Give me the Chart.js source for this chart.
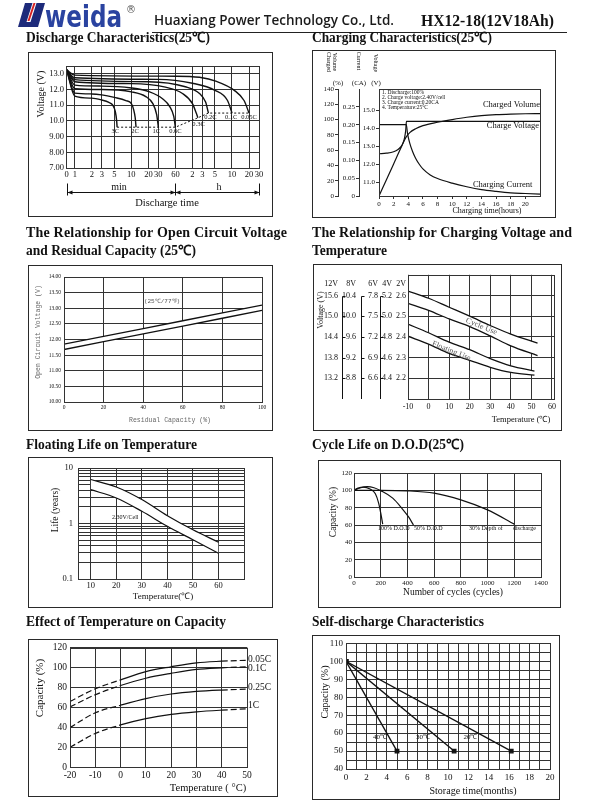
<!DOCTYPE html>
<html>
<head>
<meta charset="utf-8">
<title>HX12-18(12V18Ah)</title>
<script src="https://cdn.jsdelivr.net/npm/chart.js@4.4.1/dist/chart.umd.min.js"></script>
<style>
  html, body { margin: 0; padding: 0; background: #fff; }
  body { position: relative; width: 601px; height: 810px; overflow: hidden; }
  canvas { position: absolute; }
  .frame { position: absolute; box-sizing: border-box; border: 1.5px solid #2a2a2a; pointer-events: none; }
  #txt { position: absolute; left: 0; top: 0; z-index: 5; pointer-events: none; }
</style>
</head>
<body>
<svg id="txt" width="601" height="810" xmlns="http://www.w3.org/2000/svg"></svg>
<script>
const SERIF = "'Liberation Serif', 'Times New Roman', serif";
const MONO = "'Liberation Mono', 'DejaVu Sans Mono', monospace";
const INK = '#111';
const GRID = '#333';

// ===== 1. Discharge Characteristics (x: minutos, y: V) =====
const dischargeTimeTicks = [0.72, 1, 2, 3, 5, 10, 20, 30, 60, 120, 180, 300, 600, 1200, 1800];
const dischargeTimeLabels = ['0', '1', '2', '3', '5', '10', '20', '30', '60', '2', '3', '5', '10', '20', '30'];
const dischargeVoltTicks = [7, 8, 9, 10, 11, 12, 13];
const dischargeVoltLabels = ['7.00', '8.00', '9.00', '10.0', '11.0', '12.0', '13.0'];
const dischargeRates = ['3C', '2C', '1C', '0.6C', '0.3C', '0.2C', '0.1C', '0.05C'];
const discharge3C = [[0.72, 13.25], [1, 11.58], [2, 11.45], [3, 11.33], [4, 11.18], [4.7, 11.0], [5.2, 10.6], [5.5, 10.0], [5.6, 9.6]];
const discharge2C = [[0.72, 13.25], [1, 11.77], [2, 11.72], [3, 11.66], [5, 11.5], [8, 11.3], [10, 11.1], [11, 10.7], [11.7, 10.2], [12.1, 9.6]];
const discharge1C = [[0.72, 13.25], [1, 12.05], [3, 12.0], [10, 11.85], [18, 11.55], [24, 11.1], [28, 10.4], [30, 9.6]];
const discharge06C = [[0.72, 13.25], [1, 12.28], [3, 12.22], [10, 12.1], [21, 11.85], [36, 11.4], [48, 10.9], [56, 10.3], [60, 9.6]];
const discharge03C = [[0.72, 13.25], [1, 12.5], [10, 12.38], [40, 12.15], [80, 11.75], [120, 11.1], [140, 10.5], [150, 10.2]];
const discharge02C = [[0.72, 13.25], [1, 12.63], [20, 12.5], [90, 12.18], [160, 11.75], [205, 11.2], [230, 10.5]];
const discharge01C = [[0.72, 13.25], [1, 12.75], [30, 12.65], [120, 12.4], [300, 11.95], [500, 11.3], [600, 10.5]];
const discharge005C = [[0.72, 13.25], [1, 12.92], [60, 12.85], [160, 12.78], [320, 12.52], [660, 11.95], [980, 11.3], [1200, 10.5]];
const dischargeCutoff = [[5.6, 9.6], [60, 9.6], [150, 10.2], [230, 10.5], [1200, 10.5]];

// ===== 2. Charging Characteristics (x: horas) =====
const chargeHourTicks = [0, 2, 4, 6, 8, 10, 12, 14, 16, 18, 20];
const chargePctTicks = [0, 20, 40, 60, 80, 100, 120, 140];
const chargeCaTicks = [0, 0.05, 0.10, 0.15, 0.20, 0.25];
const chargeVoltTicks = [11, 12, 13, 14, 15];
const chargeVolume = [[0, 0], [1, 21], [2, 42], [3, 63], [3.7, 77], [4.2, 83], [5, 88], [6, 92], [8, 96.5], [10, 100], [12, 103], [14, 105.2], [16, 106.5], [18, 107.2], [20, 107.6], [22, 107.8]];
const chargeCurrent = [[0, 0.2], [3.72, 0.2], [3.9, 0.175], [4.2, 0.148], [4.6, 0.124], [5, 0.106], [5.5, 0.089], [6, 0.076], [7, 0.059], [8, 0.049], [10, 0.036], [12, 0.026], [14, 0.018], [16, 0.013], [18, 0.009], [20, 0.007], [22, 0.005]];
const chargeVoltage = [[0, 12.6], [1, 12.63], [2, 12.71], [2.6, 12.84], [3, 13.0], [3.3, 13.22], [3.5, 13.5], [3.65, 13.9], [3.75, 14.4], [22, 14.4]];
const chargeNotes = ['1. Discharge:100%', '2. Charge voltage:2.40V/cell', '3. Charge current:0.20CA', '4. Temperature:25°C'];

// ===== 3. Open circuit voltage x residual capacity =====
const ocvCapTicks = [0, 20, 40, 60, 80, 100];
const ocvVoltTicks = [10, 10.5, 11, 11.5, 12, 12.5, 13, 13.5, 14];
const ocvResidual = [0, 20, 40, 60, 80, 100];
const ocvUpper = [11.85, 12.10, 12.35, 12.60, 12.85, 13.10];
const ocvLower = [11.68, 11.93, 12.18, 12.43, 12.68, 12.93];

// ===== 4. Charging voltage x temperature =====
const cvTempTicks = [-10, 0, 10, 20, 30, 40, 50, 60];
const voltScaleNames = ['12V', '8V', '6V', '4V', '2V'];
const voltScaleCells = [6, 4, 3, 2, 1];
const cellVoltTicks = [2.2, 2.3, 2.4, 2.5, 2.6];
const cycleTemps = [-10, 0, 10, 20, 30, 40, 53];
const cycleUpper = [15.73, 15.52, 15.26, 15.00, 14.73, 14.48, 14.22];
const cycleLower = [15.37, 15.17, 14.92, 14.70, 14.43, 14.14, 13.86];
const floatTemps = [-10, 0, 10, 20, 30, 40, 51.5];
const floatUpper = [14.77, 14.52, 14.25, 14.03, 13.77, 13.56, 13.41];
const floatLower = [14.42, 14.19, 13.92, 13.72, 13.52, 13.37, 13.29];

// ===== 5. Floating life x temperature =====
const lifeTempTicks = [10, 20, 30, 40, 50, 60];
const lifeGridTicks = [0.1, 0.2, 0.3, 0.4, 0.5, 0.6, 0.7, 0.8, 0.9, 1, 2, 3, 4, 5, 6, 7, 8, 9, 10];
const lifeLabelled = [0.1, 1, 10];
const lifeTemps = [10, 20, 30, 40, 50, 60];
const lifeUpper = [6.2, 4.55, 2.7, 1.38, 0.77, 0.46];
const lifeLower = [4.07, 2.88, 1.66, 0.89, 0.51, 0.29];

// ===== 6. Cycle life x D.O.D =====
const cycleCountTicks = [0, 200, 400, 600, 800, 1000, 1200, 1400];
const cycleCapTicks = [0, 20, 40, 60, 80, 100, 120];
const dod100 = [[0, 100], [30, 102.5], [70, 103.8], [120, 101.5], [160, 96], [185, 85], [200, 74], [215, 61]];
const dod50 = [[0, 100], [50, 103], [100, 104.3], [150, 103], [200, 99.6], [290, 91], [360, 79], [410, 69], [445, 60]];
const dod30 = [[0, 100], [200, 100], [400, 99.4], [600, 96.7], [800, 89], [1000, 77.4], [1200, 61]];

// ===== 7. Effect of temperature on capacity =====
const capTempTicks = [-20, -10, 0, 10, 20, 30, 40, 50];
const capPctTicks = [0, 20, 40, 60, 80, 100, 120];
const capTemps = [-20, -10, 0, 10, 20, 30, 40, 50];
const cap005C = [66, 78.7, 87.6, 95.9, 100.8, 104.8, 106.4, 107.4];
const cap01C = [60.5, 72.7, 82, 89.3, 94.2, 98.2, 99.8, 100.8];
const cap025C = [39.7, 54.5, 62.1, 68.8, 73.4, 76, 77.4, 78.3];
const cap1C = [19.8, 33.7, 42.3, 48.6, 52.9, 55.5, 57.2, 58.5];
const capRates = ['0.05C', '0.1C', '0.25C', '1C'];

// ===== 8. Self-discharge =====
const sdMonthTicks = [0, 1, 2, 3, 4, 5, 6, 7, 8, 9, 10, 11, 12, 13, 14, 15, 16, 17, 18, 19, 20];
const sdCapTicks = [40, 45, 50, 55, 60, 65, 70, 75, 80, 85, 90, 95, 100, 105, 110];
const sd40 = [[0, 100], [5.0, 50]];
const sd30 = [[0, 100], [10.6, 50]];
const sd20 = [[0, 100], [16.2, 50]];
const sdTemps = ['40℃', '30℃', '20℃'];

// ================= helpers =================
Chart.defaults.font.family = SERIF;
Chart.defaults.color = INK;

const svg = document.getElementById('txt');
function text(str, x, y, o = {}) {
  const t = document.createElementNS('http://www.w3.org/2000/svg', 'text');
  t.setAttribute('x', x);
  t.setAttribute('y', y);
  t.setAttribute('font-family', o.family || SERIF);
  t.setAttribute('font-size', o.size || 10);
  if (o.bold) t.setAttribute('font-weight', o.bold === true ? 'bold' : o.bold);
  t.setAttribute('fill', o.fill || INK);
  t.setAttribute('text-anchor', o.anchor || 'start');
  if (o.mid) t.setAttribute('dominant-baseline', 'central');
  if (o.len) {
    t.setAttribute('textLength', o.len);
    t.setAttribute('lengthAdjust', o.adjust || 'spacingAndGlyphs');
  }
  if (o.rot) t.setAttribute('transform', `rotate(${o.rot} ${x} ${y})`);
  t.textContent = str;
  svg.appendChild(t);
}
function shape(tag, attrs) {
  const el = document.createElementNS('http://www.w3.org/2000/svg', tag);
  for (const k in attrs) el.setAttribute(k, attrs[k]);
  svg.appendChild(el);
}

const pairs = arr => arr.map(p => ({ x: p[0], y: p[1] }));
const zip = (xs, ys) => xs.map((x, i) => ({ x, y: ys[i] }));

function axis(o) {
  const vertical = o.pos === 'left' || o.pos === 'right';
  return {
    type: o.type || 'linear',
    position: o.pos,
    min: o.min,
    max: o.max,
    weight: o.weight || 0,
    afterFit: s => { if (vertical) s.width = o.size; else s.height = o.size; },
    afterBuildTicks: o.ticks ? (s => { s.ticks = o.ticks.map(v => ({ value: v })); }) : undefined,
    grid: { color: GRID, lineWidth: 1, drawOnChartArea: o.grid !== false, drawTicks: !!o.tick, tickLength: o.tick || 0 },
    border: { display: o.border !== false, color: GRID, width: 1 },
    ticks: {
      font: { family: o.family || SERIF, size: o.fs || 8 },
      color: INK, padding: o.pad ?? 2, maxRotation: 0, minRotation: 0, autoSkip: false,
      callback: o.cb || (v => String(v))
    }
  };
}

function line(data, o = {}) {
  return Object.assign({
    data, borderColor: INK, borderWidth: 1.3, pointRadius: 0, fill: false,
    cubicInterpolationMode: 'monotone'
  }, o);
}

const framePlugin = {
  id: 'frame',
  afterDatasetsDraw(chart) {
    const { ctx, chartArea: a } = chart;
    ctx.save();
    ctx.strokeStyle = GRID;
    ctx.lineWidth = 1;
    ctx.strokeRect(Math.round(a.left) + 0.5, Math.round(a.top) + 0.5, Math.round(a.right - a.left), Math.round(a.bottom - a.top));
    ctx.restore();
  }
};

let noteId = 0;
function notesPlugin(items, st) {
  return {
    id: 'notes' + (noteId++),
    afterDatasetsDraw(chart) {
      const ctx = chart.ctx;
      const xs = chart.scales[st.xa || 'x'], ys = chart.scales[st.ya || 'y'];
      ctx.save();
      ctx.font = st.font;
      ctx.fillStyle = st.color || INK;
      ctx.textAlign = st.align || 'center';
      ctx.textBaseline = 'middle';
      items.forEach(([str, x, y]) => {
        ctx.save();
        ctx.translate(xs.getPixelForValue(x), ys.getPixelForValue(y));
        if (st.rot) ctx.rotate(st.rot * Math.PI / 180);
        ctx.fillText(str, 0, 0);
        ctx.restore();
      });
      ctx.restore();
    }
  };
}

function makeChart(box, plot, leftW, bottomH, scales, datasets, plugins) {
  const cv = document.createElement('canvas');
  cv.width = box.w;
  cv.height = box.h;
  cv.style.left = box.x + 'px';
  cv.style.top = box.y + 'px';
  document.body.appendChild(cv);
  const fr = document.createElement('div');
  fr.className = 'frame';
  fr.style.left = box.x + 'px';
  fr.style.top = box.y + 'px';
  fr.style.width = box.w + 'px';
  fr.style.height = box.h + 'px';
  document.body.appendChild(fr);
  return new Chart(cv, {
    type: 'line',
    data: { datasets },
    options: {
      responsive: false,
      animation: false,
      events: [],
      layout: {
        padding: {
          left: plot.l - box.x - leftW,
          top: plot.t - box.y,
          right: box.x + box.w - plot.r,
          bottom: box.y + box.h - plot.b - bottomH
        }
      },
      plugins: { legend: { display: false }, tooltip: { enabled: false } },
      scales
    },
    plugins: [framePlugin].concat(plugins || [])
  });
}

// ================= header =================
shape('path', { d: 'M25 3 L45 3 L38 27 L18 27 Z', fill: '#1d2a7a' });
shape('path', { d: 'M32.5 3 L36.5 3 L30.5 22 L26.5 22 Z', fill: '#fff' });
shape('path', { d: 'M33.5 3 L35.5 3 L29.5 21 L27.5 21 Z', fill: '#d62020' });
text('weida', 45, 27, { family: "'DejaVu Sans', sans-serif", bold: true, size: 30, fill: '#2a43a0', len: 77 });
text('®', 126, 13, { family: "'DejaVu Sans', sans-serif", size: 10, fill: '#555' });
text('Huaxiang Power Technology Co., Ltd.', 154, 25, { family: "'Open Sans', sans-serif", bold: 600, size: 14, fill: '#1a1a1a', len: 240 });
text('HX12-18(12V18Ah)', 421, 26, { bold: true, size: 16, len: 133 });
shape('line', { x1: 152, y1: 32.5, x2: 567, y2: 32.5, stroke: '#222', 'stroke-width': 1 });

// section titles
text('Discharge Characteristics(25℃)', 26, 42, { bold: true, size: 14, len: 184 });
text('Charging Characteristics(25℃)', 312, 42, { bold: true, size: 14, len: 180 });
text('The Relationship for Open Circuit Voltage', 26, 237, { bold: true, size: 14, len: 261, adjust: 'spacing' });
text('and Residual Capacity (25℃)', 26, 255, { bold: true, size: 14, len: 170 });
text('The Relationship for Charging Voltage and', 312, 237, { bold: true, size: 14, len: 260, adjust: 'spacing' });
text('Temperature', 312, 255, { bold: true, size: 14, len: 75 });
text('Floating Life on Temperature', 26, 449, { bold: true, size: 14, len: 171 });
text('Cycle Life on D.O.D(25℃)', 312, 449, { bold: true, size: 14, len: 152 });
text('Effect of Temperature on Capacity', 26, 626, { bold: true, size: 14, len: 200 });
text('Self-discharge Characteristics', 312, 626, { bold: true, size: 14, len: 172 });

// ================= 1. discharge =================
const timeBrackets = {
  id: 'brackets',
  afterDraw(chart) {
    const { ctx, chartArea: a } = chart;
    const xs = [0.72, 60, 1800].map(v => Math.round(chart.scales.x.getPixelForValue(v)) + 0.5);
    const y = a.bottom + 24.5;
    ctx.save();
    ctx.strokeStyle = INK;
    ctx.fillStyle = INK;
    ctx.lineWidth = 1;
    ctx.beginPath();
    ctx.moveTo(xs[0], y);
    ctx.lineTo(xs[2], y);
    xs.forEach(px => { ctx.moveTo(px, y - 9); ctx.lineTo(px, y + 3); });
    ctx.stroke();
    const arrow = (px, dir) => {
      ctx.beginPath();
      ctx.moveTo(px, y);
      ctx.lineTo(px + dir * 5, y - 2);
      ctx.lineTo(px + dir * 5, y + 2);
      ctx.closePath();
      ctx.fill();
    };
    arrow(xs[0], 1); arrow(xs[1], -1); arrow(xs[1], 1); arrow(xs[2], -1);
    ctx.restore();
  }
};
const dischargeSets = [discharge3C, discharge2C, discharge1C, discharge06C, discharge03C, discharge02C, discharge01C, discharge005C]
  .map(c => line(pairs(c), { borderWidth: 1.4 }));
dischargeSets.push(line(pairs(dischargeCutoff), { borderWidth: 1, borderDash: [2, 2], cubicInterpolationMode: 'default', tension: 0 }));
makeChart({ x: 28, y: 52, w: 245, h: 165 }, { l: 66, t: 66, r: 259, b: 168 }, 24, 12, {
  x: axis({ type: 'logarithmic', pos: 'bottom', min: 0.72, max: 1800, size: 12, ticks: dischargeTimeTicks, fs: 8.5, pad: 2,
    cb: (v, i) => dischargeTimeLabels[i] }),
  y: axis({ pos: 'left', min: 7, max: 13.5, size: 24, ticks: dischargeVoltTicks, fs: 8.5, pad: 2,
    cb: (v, i) => dischargeVoltLabels[i] })
}, dischargeSets, [timeBrackets, notesPlugin([
  [dischargeRates[0], 5.2, 9.33], [dischargeRates[1], 11.6, 9.33], [dischargeRates[2], 27.7, 9.33], [dischargeRates[3], 60, 9.33],
  [dischargeRates[4], 154, 9.77], [dischargeRates[5], 250, 10.23], [dischargeRates[6], 580, 10.23], [dischargeRates[7], 1200, 10.23]
], { font: `6.5px ${SERIF}` })]);
text('Voltage (V)', 40, 94, { size: 10, anchor: 'middle', mid: true, rot: -90 });
text('min', 119, 186, { size: 10, anchor: 'middle', mid: true });
text('h', 219, 186, { size: 10, anchor: 'middle', mid: true });
text('Discharge time', 167, 202, { size: 10.5, anchor: 'middle', mid: true });

// ================= 2. charging =================
makeChart({ x: 312, y: 50, w: 244, h: 168 }, { l: 379, t: 89, r: 540, b: 196 }, 57, 14, {
  x: axis({ pos: 'bottom', min: 0, max: 22, size: 14, ticks: chargeHourTicks, grid: false, tick: 3, fs: 7, pad: 1 }),
  pct: axis({ pos: 'left', weight: 3, min: 0, max: 140, size: 16, ticks: chargePctTicks, grid: false, tick: 3, fs: 7, pad: 1 }),
  ca: axis({ pos: 'left', weight: 2, min: 0, max: 0.30, size: 21, ticks: chargeCaTicks, grid: false, tick: 3, fs: 7, pad: 1,
    cb: v => (v === 0 ? '0' : v.toFixed(2)) }),
  v: axis({ pos: 'left', weight: 1, min: 10.25, max: 16.2, size: 20, ticks: chargeVoltTicks, grid: false, tick: 3, fs: 7, pad: 1,
    cb: v => v.toFixed(1) })
}, [
  line(pairs(chargeVolume), { yAxisID: 'pct', borderWidth: 1.2 }),
  line(pairs(chargeCurrent), { yAxisID: 'ca', borderWidth: 1.2 }),
  line(pairs(chargeVoltage), { yAxisID: 'v', borderWidth: 1.2 })
], [
  notesPlugin(chargeNotes.map((s, i) => [s, 0.4, 134.8 - i * 6.3]), { ya: 'pct', font: `5.5px ${SERIF}`, align: 'left' }),
  notesPlugin([['Charged Volume', 18.1, 119], ['Charge Voltage', 18.3, 91.6], ['Charging Current', 16.9, 14.4]],
    { ya: 'pct', font: `8.5px ${SERIF}` })
]);
text('Charged', 329, 62, { size: 6, anchor: 'middle', mid: true, rot: 90 });
text('Volume', 335, 62, { size: 6, anchor: 'middle', mid: true, rot: 90 });
text('Current', 359, 61, { size: 6, anchor: 'middle', mid: true, rot: 90 });
text('Voltage', 376, 63, { size: 6, anchor: 'middle', mid: true, rot: 90 });
text('(%)', 338, 83, { size: 7, anchor: 'middle', mid: true });
text('(CA)', 359, 83, { size: 7, anchor: 'middle', mid: true });
text('(V)', 376, 83, { size: 7, anchor: 'middle', mid: true });
text('Charging time(hours)', 487, 210, { size: 8, anchor: 'middle', mid: true });

// ================= 3. open circuit voltage =================
makeChart({ x: 28, y: 265, w: 245, h: 166 }, { l: 64, t: 277, r: 262, b: 402 }, 22, 10, {
  x: axis({ pos: 'bottom', min: 0, max: 100, size: 10, ticks: ocvCapTicks, fs: 5.5, pad: 2 }),
  y: axis({ pos: 'left', min: 10, max: 14, size: 22, ticks: ocvVoltTicks, fs: 5.5, pad: 3, cb: v => v.toFixed(2) })
}, [
  line(zip(ocvResidual, ocvUpper), { cubicInterpolationMode: 'default', tension: 0 }),
  line(zip(ocvResidual, ocvLower), { cubicInterpolationMode: 'default', tension: 0, fill: '-1', backgroundColor: '#fff' })
], [notesPlugin([['(25℃/77℉)', 49.5, 13.23]], { font: `6px ${MONO}`, color: '#555' })]);
text('Open Circuit Voltage (V)', 38, 332, { family: MONO, size: 6.5, fill: '#666', anchor: 'middle', mid: true, rot: -90 });
text('Residual Capacity (%)', 170, 420, { family: MONO, size: 6.5, fill: '#666', anchor: 'middle', mid: true });

// ================= 4. charging voltage x temperature =================
const voltScaleIds = voltScaleNames.map(n => 'v' + n);
const voltScaleWidths = [24, 19, 19, 15, 12];
const voltScalePads = [5, 6, 3, 4, 2];
const voltStubs = {
  id: 'stubs',
  afterDraw(chart) {
    const { ctx, chartArea: a } = chart;
    ctx.save();
    ctx.strokeStyle = INK;
    ctx.fillStyle = INK;
    ctx.lineWidth = 1;
    ctx.font = `8px ${SERIF}`;
    ctx.textAlign = 'right';
    ctx.textBaseline = 'middle';
    voltScaleIds.forEach((id, i) => {
      const s = chart.scales[id];
      ctx.fillText(voltScaleNames[i], s.right - voltScalePads[i], a.top + 9);
      if (i < 3) {
        const x = Math.round(s.right) - 0.5;
        const top = Math.round(s.getPixelForValue(s.ticks[s.ticks.length - 1].value)) + 0.5;
        ctx.beginPath();
        ctx.moveTo(x, top);
        ctx.lineTo(x, a.bottom);
        s.ticks.forEach(t => {
          const y = Math.round(s.getPixelForValue(t.value)) + 0.5;
          ctx.moveTo(x, y);
          ctx.lineTo(x + 3, y);
        });
        ctx.stroke();
      }
    });
    ctx.restore();
  }
};
const cvScales = {
  x: axis({ pos: 'bottom', min: -10, max: 61, size: 14, ticks: cvTempTicks, fs: 8, pad: 3 })
};
voltScaleIds.forEach((id, i) => {
  const n = voltScaleCells[i];
  cvScales[id] = axis({
    pos: 'left', weight: 5 - i, min: 2.1 * n, max: 2.7 * n, size: voltScaleWidths[i],
    ticks: cellVoltTicks.map(v => v * n), grid: i === 0, border: false, fs: 8, pad: voltScalePads[i],
    cb: v => v.toFixed(1)
  });
});
makeChart({ x: 313, y: 264, w: 249, h: 167 }, { l: 408, t: 273, r: 554, b: 399 }, 89, 14, cvScales, [
  line(zip(cycleTemps, cycleUpper), { yAxisID: 'v12V' }),
  line(zip(cycleTemps, cycleLower), { yAxisID: 'v12V', fill: '-1', backgroundColor: '#fff' }),
  line(zip(floatTemps, floatUpper), { yAxisID: 'v12V' }),
  line(zip(floatTemps, floatLower), { yAxisID: 'v12V', fill: '-1', backgroundColor: '#fff' })
], [voltStubs,
  notesPlugin([['Cycle Use', 25.7, 14.70], ['Floating Use', 11.1, 13.99]], { ya: 'v12V', font: `8px ${SERIF}`, color: '#555', rot: 22 })
]);
text('Voltage (V)', 320, 310, { size: 8, anchor: 'middle', mid: true, rot: -90 });
text('Temperature (℃)', 521, 419, { size: 8.5, anchor: 'middle', mid: true });

// ================= 5. floating life =================
makeChart({ x: 28, y: 457, w: 245, h: 151 }, { l: 78, t: 468, r: 244, b: 579 }, 20, 12, {
  x: axis({ pos: 'bottom', min: 5, max: 70, size: 12, ticks: lifeTempTicks, fs: 8.5, pad: 2 }),
  y: axis({ type: 'logarithmic', pos: 'left', min: 0.1, max: 10, size: 20, ticks: lifeGridTicks, fs: 8.5, pad: 5,
    cb: v => (lifeLabelled.includes(v) ? String(v) : '') })
}, [
  line(zip(lifeTemps, lifeUpper), { borderWidth: 1.2 }),
  line(zip(lifeTemps, lifeLower), { borderWidth: 1.2, fill: '-1', backgroundColor: '#fff' })
], [notesPlugin([['2.30V/Cell', 23.5, 1.31]], { font: `6px ${SERIF}` })]);
text('Life (years)', 55, 510, { size: 9.5, anchor: 'middle', mid: true, rot: -90 });
text('Temperature(℃)', 163, 596, { size: 9, anchor: 'middle', mid: true });

// ================= 6. cycle life =================
makeChart({ x: 318, y: 460, w: 243, h: 148 }, { l: 354, t: 473, r: 541, b: 577 }, 26, 12, {
  x: axis({ pos: 'bottom', min: 0, max: 1400, size: 12, ticks: cycleCountTicks, fs: 7, pad: 2 }),
  y: axis({ pos: 'left', min: 0, max: 120, size: 26, ticks: cycleCapTicks, fs: 7, pad: 2 })
}, [
  line(pairs(dod100), { borderWidth: 1.2 }),
  line(pairs(dod50), { borderWidth: 1.2 }),
  line(pairs(dod30), { borderWidth: 1.2 })
], [notesPlugin([['100% D.O.D', 180, 56.5], ['50% D.O.D', 450, 56.5], ['30% Depth of', 861, 56.5], ['discharge', 1190, 56.5]],
  { font: `6px ${SERIF}`, align: 'left' })]);
text('Capacity (%)', 333, 512, { size: 9.5, anchor: 'middle', mid: true, rot: -90 });
text('Number of cycles (cycles)', 453, 592, { size: 9.5, anchor: 'middle', mid: true });

// ================= 7. temperature x capacity =================
const dashEnds = { borderDash: c => ((c.p0.parsed.x < -9 || c.p1.parsed.x > 41) ? [6, 3] : undefined) };
makeChart({ x: 28, y: 639, w: 250, h: 158 }, { l: 70, t: 646, r: 247, b: 767 }, 28, 14, {
  x: axis({ pos: 'bottom', min: -20, max: 50, size: 14, ticks: capTempTicks, fs: 9.5, pad: 3 }),
  y: axis({ pos: 'left', min: 0, max: 120, size: 28, ticks: capPctTicks, fs: 9.5, pad: 3 })
}, [cap005C, cap01C, cap025C, cap1C].map(c => line(zip(capTemps, c), { borderWidth: 1.2, segment: dashEnds })),
[notesPlugin([[capRates[0], 50.4, 108], [capRates[1], 50.4, 99.2], [capRates[2], 50.4, 80.3], [capRates[3], 50.4, 61.5]],
  { font: `9.5px ${SERIF}`, align: 'left' })]);
text('Capacity (%)', 39, 688, { size: 11, anchor: 'middle', mid: true, rot: -90 });
text('Temperature ( °C)', 208, 787, { size: 10.5, anchor: 'middle', mid: true });

// ================= 8. self-discharge =================
makeChart({ x: 312, y: 635, w: 248, h: 165 }, { l: 346, t: 643, r: 550, b: 769 }, 22, 14, {
  x: axis({ pos: 'bottom', min: 0, max: 20, size: 14, ticks: sdMonthTicks, fs: 9, pad: 3, cb: v => (v % 2 ? '' : String(v)) }),
  y: axis({ pos: 'left', min: 40, max: 110, size: 22, ticks: sdCapTicks, fs: 9, pad: 3, cb: v => (v % 10 ? '' : String(v)) })
}, [sd40, sd30, sd20].map(c => line(pairs(c), {
  borderWidth: 1.3, cubicInterpolationMode: 'default', tension: 0,
  pointRadius: 2.5, pointStyle: 'rect', pointBackgroundColor: INK, pointBorderColor: INK
})), [notesPlugin([[sdTemps[0], 3.33, 57.8], [sdTemps[1], 7.55, 57.8], [sdTemps[2], 12.2, 57.8]], { font: `7px ${SERIF}` })]);
text('Capacity (%)', 324, 692, { size: 10, anchor: 'middle', mid: true, rot: -90 });
text('Storage time(months)', 473, 790, { size: 10, anchor: 'middle', mid: true });
</script>
</body>
</html>
